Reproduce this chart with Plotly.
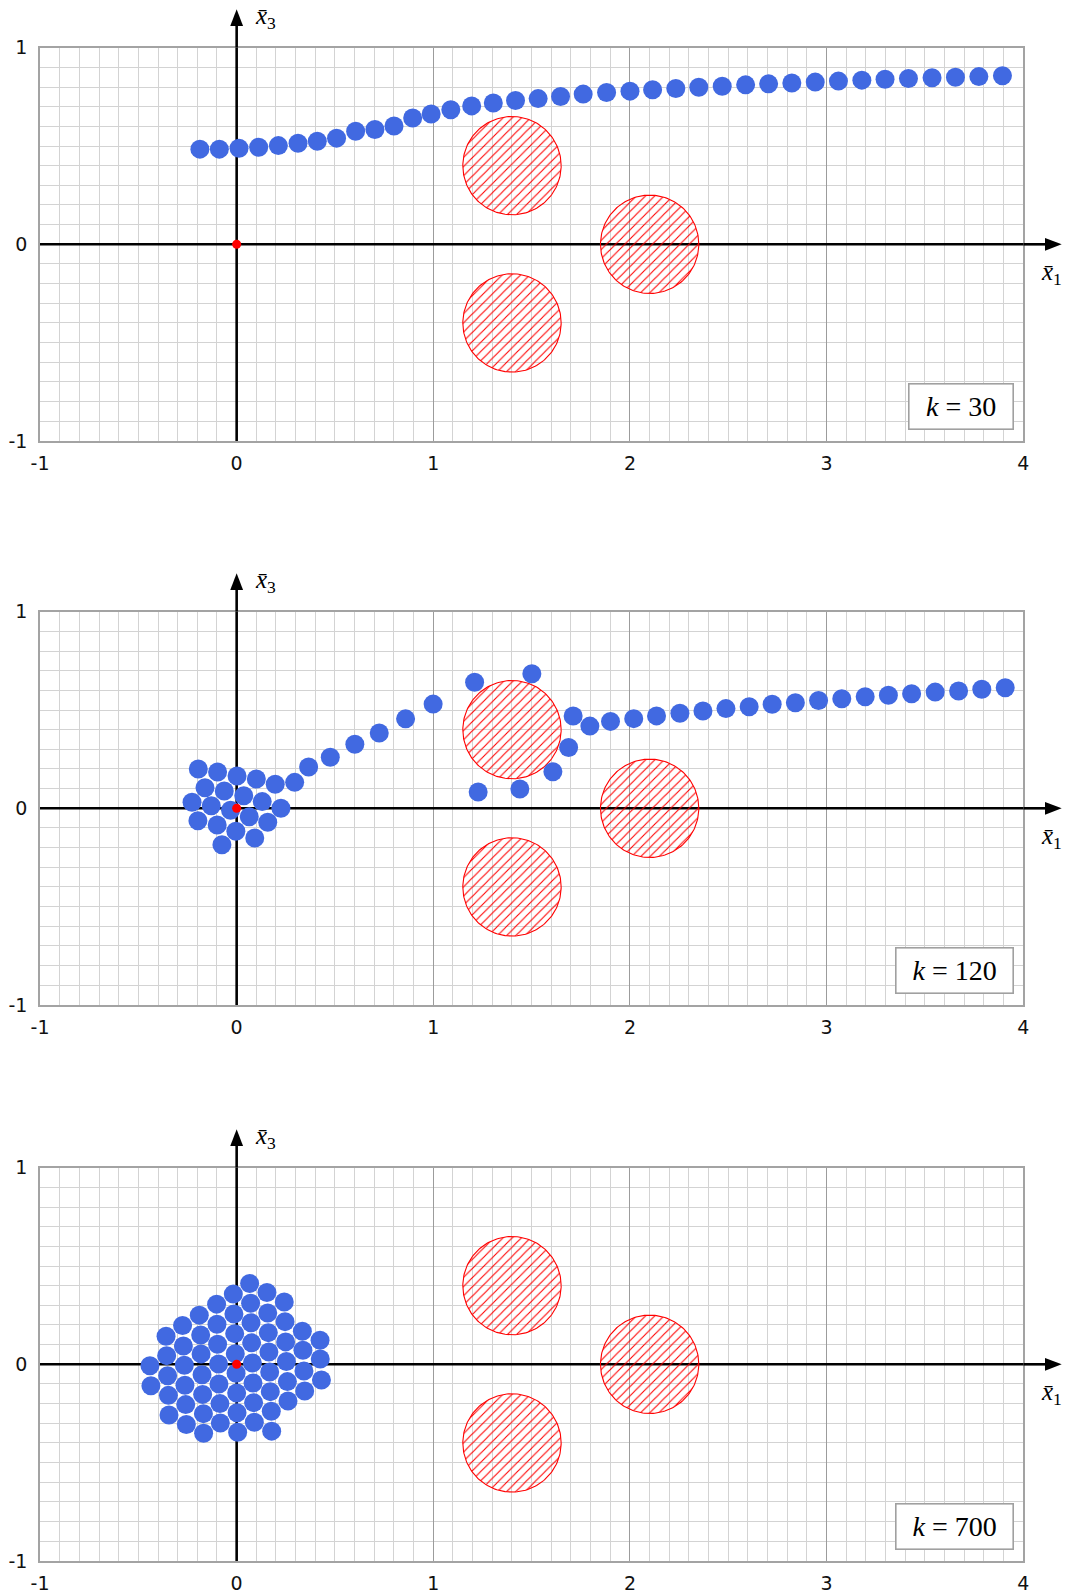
import numpy as np
import plotly.graph_objects as go

# ---------------------------------------------------------------- page / frame
W, H = 1066, 1591
X_RANGE = [-1.0, 4.0]
Y_RANGE = [-1.0, 1.0]
FRAME_LEFT, FRAME_RIGHT = 40.0, 1023.3          # px
PANEL_TOPS = [47.7, 611.7, 1167.7]              # px, top edge of each panel
PANEL_H = 393.2                                  # px

# ---------------------------------------------------------------- data
step_labels = ["30", "120", "700"]
tick_x = [-1, 0, 1, 2, 3, 4]
tick_x_text = ["-1", "0", "1", "2", "3", "4"]
tick_y = [-1, 0, 1]
tick_y_text = ["-1", "0", "1"]

# circular obstacles (centre, radius)
obs_x = [1.4, 1.4, 2.1]
obs_y = [0.4, -0.4, 0.0]
obs_r = [0.25, 0.25, 0.25]

# target point
target_x = [0.0]
target_y = [0.0]

# agent positions, k = 30
k30_x = [-0.187, -0.088, 0.012, 0.112, 0.212, 0.312, 0.410, 0.508, 0.605, 0.703,
         0.800, 0.895, 0.989, 1.089, 1.195, 1.305, 1.418, 1.533, 1.647, 1.762,
         1.881, 2.000, 2.115, 2.233, 2.350, 2.469, 2.588, 2.705, 2.823, 2.942,
         3.060, 3.179, 3.297, 3.416, 3.536, 3.655, 3.774, 3.894]
k30_y = [0.484, 0.484, 0.489, 0.494, 0.502, 0.514, 0.524, 0.540, 0.575, 0.584,
         0.602, 0.642, 0.663, 0.684, 0.704, 0.719, 0.731, 0.741, 0.752, 0.764,
         0.772, 0.779, 0.786, 0.792, 0.799, 0.804, 0.811, 0.816, 0.820, 0.825,
         0.830, 0.835, 0.840, 0.843, 0.847, 0.850, 0.853, 0.857]

# agent positions, k = 120
k120_x = [-0.195, -0.097, 0.002, 0.100, 0.196,
          -0.161, -0.063, 0.036, 0.130, 0.225,
          -0.227, -0.129, -0.031, 0.064, 0.158,
          -0.197, -0.099, -0.004, 0.092,
          -0.075,
          0.295, 0.366, 0.476, 0.601, 0.725, 0.859, 0.999,
          1.210, 1.501, 1.688, 1.608, 1.440, 1.228,
          1.711, 1.796, 1.901, 2.019, 2.135, 2.254, 2.371, 2.488, 2.606, 2.723,
          2.841, 2.959, 3.077, 3.196, 3.314, 3.432, 3.552, 3.671, 3.789, 3.908]
k120_y = [0.200, 0.185, 0.164, 0.149, 0.122,
          0.105, 0.088, 0.064, 0.034, 0.000,
          0.031, 0.013, -0.010, -0.043, -0.071,
          -0.063, -0.085, -0.117, -0.151,
          -0.185,
          0.132, 0.210, 0.260, 0.326, 0.383, 0.455, 0.530,
          0.641, 0.684, 0.309, 0.186, 0.098, 0.083,
          0.469, 0.418, 0.442, 0.456, 0.470, 0.483, 0.495, 0.507, 0.517, 0.529,
          0.537, 0.548, 0.557, 0.567, 0.575, 0.583, 0.591, 0.597, 0.606, 0.613]

# agent positions, k = 700
k700_x = [-0.441, -0.436,
          -0.359, -0.356, -0.351, -0.347, -0.344,
          -0.275, -0.271, -0.266, -0.263, -0.259, -0.256,
          -0.190, -0.183, -0.181, -0.176, -0.173, -0.169, -0.168,
          -0.102, -0.100, -0.097, -0.092, -0.090, -0.085, -0.083,
          -0.017, -0.014, -0.010, -0.007, -0.003, 0.000, 0.002, 0.005,
          0.066, 0.071, 0.073, 0.076, 0.080, 0.083, 0.086, 0.090,
          0.154, 0.158, 0.161, 0.164, 0.168, 0.171, 0.176, 0.178,
          0.242, 0.246, 0.249, 0.253, 0.258, 0.261,
          0.334, 0.337, 0.342, 0.346,
          0.424, 0.425, 0.431]
k700_y = [-0.007, -0.109,
          0.143, 0.044, -0.058, -0.158, -0.258,
          0.197, 0.093, -0.005, -0.107, -0.205, -0.306,
          0.250, 0.149, 0.053, -0.053, -0.153, -0.251, -0.351,
          0.306, 0.204, 0.102, 0.002, -0.100, -0.200, -0.299,
          0.357, 0.256, 0.156, 0.054, -0.046, -0.146, -0.246, -0.346,
          0.411, 0.311, 0.211, 0.109, 0.007, -0.095, -0.195, -0.295,
          0.365, 0.261, 0.161, 0.063, -0.039, -0.139, -0.239, -0.340,
          0.317, 0.217, 0.114, 0.014, -0.088, -0.187,
          0.168, 0.071, -0.034, -0.136,
          0.122, 0.027, -0.080]

agents = [(k30_x, k30_y), (k120_x, k120_y), (k700_x, k700_y)]

# ---------------------------------------------------------------- styles
AGENT_COLOR = "#4169E1"
GRID_MINOR = "#d3d3d3"
GRID_MAJOR = "#9c9c9c"
FRAME_COLOR = "#a3a3a3"
TICK_FONT = dict(family="DejaVu Sans", size=19, color="#111111")
MATH_FONT = "Liberation Serif"
ARROW_OVERHANG = 38.4   # px beyond the frame
HEAD_LEN, HEAD_HALF = 16.7, 6.4


def x_px(x):
    return FRAME_LEFT + (x - X_RANGE[0]) / (X_RANGE[1] - X_RANGE[0]) * (FRAME_RIGHT - FRAME_LEFT)


def y_px(y, panel):
    top = PANEL_TOPS[panel]
    return top + (Y_RANGE[1] - y) / (Y_RANGE[1] - Y_RANGE[0]) * PANEL_H


def paper(px, py):
    return px / W, 1 - py / H


fig = go.Figure()
shapes, annotations = [], []
theta = np.linspace(0, 2 * np.pi, 181)

for i in range(3):
    sfx = "" if i == 0 else str(i + 1)
    xa, ya = "x" + sfx, "y" + sfx
    top = PANEL_TOPS[i]
    bottom = top + PANEL_H

    fig.update_layout(**{
        "xaxis" + sfx: dict(
            domain=[FRAME_LEFT / W, FRAME_RIGHT / W], range=X_RANGE, anchor=ya,
            tickmode="array", tickvals=tick_x, ticktext=tick_x_text,
            showgrid=True, gridcolor=GRID_MAJOR, gridwidth=1.3,
            minor=dict(tickmode="linear", tick0=-1, dtick=0.1, showgrid=True,
                       gridcolor=GRID_MINOR, gridwidth=1),
            zeroline=False, showline=True, mirror=True, linecolor=FRAME_COLOR,
            linewidth=1.6, ticks="", tickfont=TICK_FONT, ticklabelstandoff=4,
            automargin=False, fixedrange=True),
        "yaxis" + sfx: dict(
            domain=[1 - bottom / H, 1 - top / H], range=Y_RANGE, anchor=xa,
            tickmode="array", tickvals=tick_y, ticktext=tick_y_text,
            showgrid=True, gridcolor=GRID_MAJOR, gridwidth=1.3,
            minor=dict(tickmode="linear", tick0=-1, dtick=0.1, showgrid=True,
                       gridcolor=GRID_MINOR, gridwidth=1),
            zeroline=False, showline=True, mirror=True, linecolor=FRAME_COLOR,
            linewidth=1.6, ticks="", tickfont=TICK_FONT, ticklabelstandoff=7,
            automargin=False, fixedrange=True),
    })

    # obstacles: hatched discs
    for cx, cy, r in zip(obs_x, obs_y, obs_r):
        fig.add_trace(go.Scatter(
            x=cx + r * np.cos(theta), y=cy + r * np.sin(theta),
            xaxis=xa, yaxis=ya, mode="lines", fill="toself",
            fillcolor="rgba(0,0,0,0)",
            fillpattern=dict(shape="/", fgcolor="#ff0000", bgcolor="rgba(0,0,0,0)",
                             size=6.5, solidity=0.17, fillmode="replace"),
            line=dict(color="#ff0000", width=1.1), hoverinfo="skip", showlegend=False))

    # agents
    ax_, ay_ = agents[i]
    fig.add_trace(go.Scatter(
        x=ax_, y=ay_, xaxis=xa, yaxis=ya, mode="markers",
        marker=dict(size=19, color=AGENT_COLOR, line=dict(width=0)),
        showlegend=False, cliponaxis=False))

    # target
    fig.add_trace(go.Scatter(
        x=target_x, y=target_y, xaxis=xa, yaxis=ya, mode="markers",
        marker=dict(size=9, color="#ff0000", line=dict(width=0)),
        showlegend=False))

    # coordinate axes (inside the frame, below the markers)
    shapes.append(dict(type="line", xref=xa, yref=ya, x0=X_RANGE[0], x1=X_RANGE[1],
                       y0=0, y1=0, line=dict(color="black", width=2.6), layer="between"))
    shapes.append(dict(type="line", xref=xa, yref=ya, x0=0, x1=0,
                       y0=Y_RANGE[0], y1=Y_RANGE[1], line=dict(color="black", width=2.6),
                       layer="between"))

    # axis extensions with arrow heads
    ox, oy = x_px(0), y_px(0, i)
    tip_y = top - ARROW_OVERHANG
    tip_x = FRAME_RIGHT + ARROW_OVERHANG
    x0p, y0p = paper(ox, top)
    x1p, y1p = paper(ox, tip_y + HEAD_LEN - 1)
    shapes.append(dict(type="line", xref="paper", yref="paper", x0=x0p, x1=x1p,
                       y0=y0p, y1=y1p, line=dict(color="black", width=2.6), layer="above"))
    x0p, y0p = paper(FRAME_RIGHT, oy)
    x1p, y1p = paper(tip_x - HEAD_LEN + 1, oy)
    shapes.append(dict(type="line", xref="paper", yref="paper", x0=x0p, x1=x1p,
                       y0=y0p, y1=y1p, line=dict(color="black", width=2.6), layer="above"))

    def tri(pts):
        p = [paper(a, b) for a, b in pts]
        return "M{},{} L{},{} L{},{} Z".format(p[0][0], p[0][1], p[1][0], p[1][1], p[2][0], p[2][1])

    shapes.append(dict(type="path", xref="paper", yref="paper",
                       path=tri([(ox, tip_y), (ox - HEAD_HALF, tip_y + HEAD_LEN),
                                 (ox + HEAD_HALF, tip_y + HEAD_LEN)]),
                       fillcolor="black", line=dict(width=0), layer="above"))
    shapes.append(dict(type="path", xref="paper", yref="paper",
                       path=tri([(tip_x, oy), (tip_x - HEAD_LEN, oy - HEAD_HALF),
                                 (tip_x - HEAD_LEN, oy + HEAD_HALF)]),
                       fillcolor="black", line=dict(width=0), layer="above"))

    # axis names
    lx, ly = paper(ox + 29, top - 30)
    annotations.append(dict(xref="paper", yref="paper", x=lx, y=ly, showarrow=False,
                            text="<i>x̄</i><sub>3</sub>", xanchor="center", yanchor="middle",
                            font=dict(family=MATH_FONT, size=25, color="black")))
    lx, ly = paper(FRAME_RIGHT + 28, oy + 29)
    annotations.append(dict(xref="paper", yref="paper", x=lx, y=ly, showarrow=False,
                            text="<i>x̄</i><sub>1</sub>", xanchor="center", yanchor="middle",
                            font=dict(family=MATH_FONT, size=25, color="black")))

    # iteration label
    lbl = step_labels[i]
    annotations.append(dict(
        xref=xa, yref=ya, x=3.952, y=-0.946, xanchor="right", yanchor="bottom",
        showarrow=False, text="<i>k</i> = " + lbl,
        font=dict(family=MATH_FONT, size=28, color="black"),
        bgcolor="white", bordercolor="#a0a0a0", borderwidth=1.6, borderpad=3,
        width=97 if len(lbl) == 2 else 110, height=38, align="center", valign="middle"))

fig.update_layout(
    width=W, height=H, margin=dict(l=0, r=0, t=0, b=0),
    paper_bgcolor="white", plot_bgcolor="white",
    shapes=shapes, annotations=annotations, showlegend=False)

fig.write_html("out.html")
